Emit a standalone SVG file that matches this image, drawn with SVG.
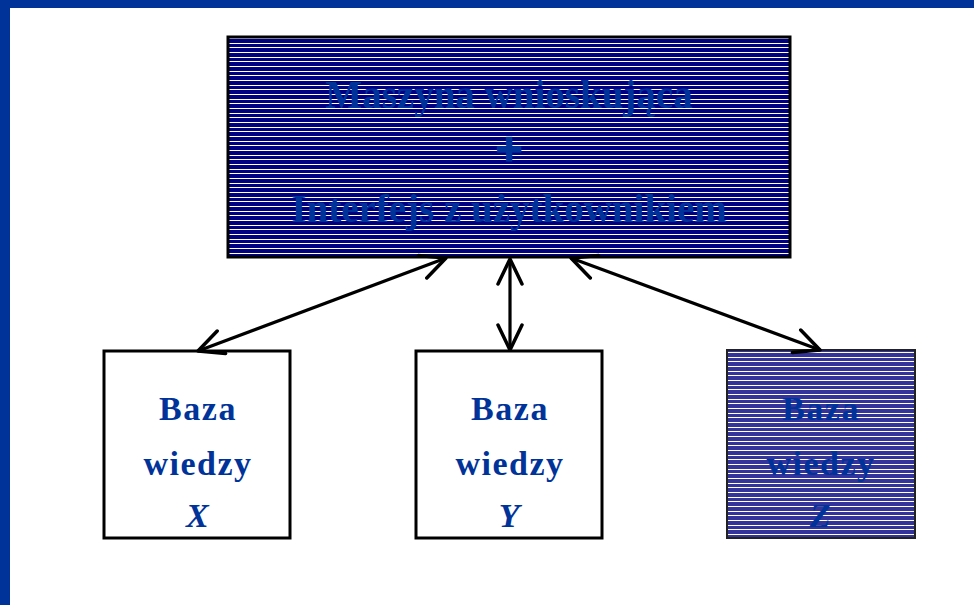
<svg xmlns="http://www.w3.org/2000/svg" width="974" height="605" viewBox="0 0 974 605">
<style>
.box{stroke:#000;stroke-width:3}
.t{font-family:"Liberation Serif",serif;font-weight:bold;fill:#003399;text-anchor:middle}
.s{font-size:34px;letter-spacing:1.5px}
.conn line{stroke:#000;stroke-width:3.2;fill:none}
</style>
<defs>
<pattern id="stripeA" patternUnits="userSpaceOnUse" x="0" y="38" width="8" height="14">
<rect width="8" height="14" fill="#000080"/>
<rect y="0" width="8" height="1" fill="#ffffff"/>
<rect y="5" width="8" height="1" fill="#ffffff"/>
<rect y="9" width="8" height="1" fill="#ffffff"/>
</pattern>
<pattern id="stripeB" patternUnits="userSpaceOnUse" x="0" y="352" width="8" height="14">
<rect width="8" height="14" fill="#333399"/>
<rect y="0" width="8" height="1" fill="#ffffff"/>
<rect y="5" width="8" height="1" fill="#ffffff"/>
<rect y="9" width="8" height="1" fill="#ffffff"/>
</pattern>
<marker id="ah" viewBox="0 0 30 28" refX="27" refY="14" markerWidth="30" markerHeight="28" markerUnits="userSpaceOnUse" orient="auto-start-reverse">
<path d="M2,2 L27,14 L2,26" fill="none" stroke="#000" stroke-width="3.5" stroke-linecap="round" stroke-linejoin="round"/>
</marker>
</defs>
<rect width="974" height="605" fill="#fff"/>
<rect x="0" y="0" width="974" height="8" fill="#003399"/>
<rect x="0" y="0" width="10" height="605" fill="#003399"/>
<g id="engine">
<rect class="box" x="228" y="37" width="562" height="220" fill="url(#stripeA)"/>
<text class="t" x="509" y="108" font-size="39">Maszyna wnioskująca</text>
<text class="t" x="509" y="165" font-size="46" stroke="#003399" stroke-width="3">+</text>
<text class="t" x="509" y="222" font-size="39">Interfejs z użytkownikiem</text>
</g>
<g id="kbX">
<rect class="box" x="104" y="351" width="186" height="187" fill="#fff"/>
<text class="t s" x="198" y="420">Baza</text>
<text class="t s" x="198" y="475">wiedzy</text>
<text class="t s" x="198" y="527" font-style="italic">X</text>
</g>
<g id="kbY">
<rect class="box" x="416" y="351" width="186" height="187" fill="#fff"/>
<text class="t s" x="510" y="420">Baza</text>
<text class="t s" x="510" y="475">wiedzy</text>
<text class="t s" x="510" y="527" font-style="italic">Y</text>
</g>
<g id="kbZ">
<rect x="727" y="350" width="188" height="188" fill="url(#stripeB)" stroke="#222" stroke-width="2"/>
<text class="t s" x="821" y="420">Baza</text>
<text class="t s" x="821" y="475">wiedzy</text>
<text class="t s" x="821" y="527" font-style="italic">Z</text>
</g>
<g class="conn" id="connectors">
<line x1="446" y1="258" x2="198" y2="351" marker-start="url(#ah)" marker-end="url(#ah)"/>
<line x1="510" y1="259" x2="510" y2="350" marker-start="url(#ah)" marker-end="url(#ah)"/>
<line x1="571" y1="258" x2="820" y2="350" marker-start="url(#ah)" marker-end="url(#ah)"/>
</g>
</svg>
